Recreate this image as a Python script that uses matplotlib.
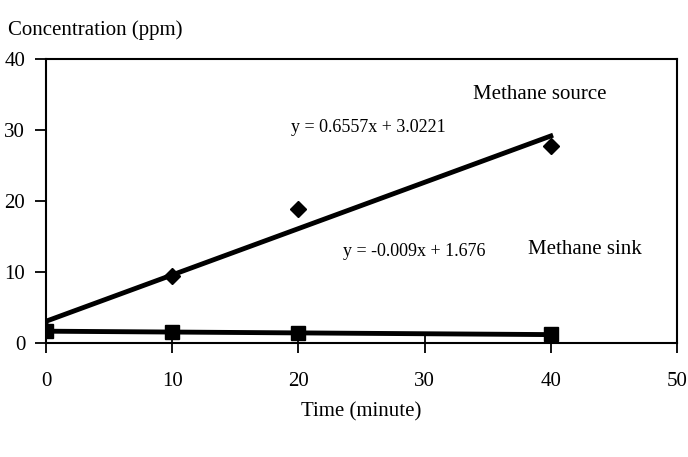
import numpy as np
import matplotlib
matplotlib.use('Agg')
from matplotlib import pyplot as plt

plt.rcParams['font.family'] = ['Liberation Serif', 'DejaVu Serif']

time = [0, 10, 20, 40]
source = [1.8, 9.4, 18.9, 27.8]
sink = [1.7, 1.5, 1.4, 1.2]

xticks = [0, 10, 20, 30, 40, 50]
yticks = [0, 10, 20, 30, 40]

fig = plt.figure(figsize=(6.88, 4.57), dpi=100)
ax = fig.add_axes([0.0669, 0.2495, 0.9171, 0.6215])

# linear trend lines over the measured range
t = np.array(time, dtype=float)
p_src = np.polyfit(t, source, 1)
p_snk = np.polyfit(t, sink, 1)
ax.plot(t[[0, -1]], np.polyval(p_src, t[[0, -1]]), color='black', lw=3.5)
ax.plot(t[[0, -1]], np.polyval(p_snk, t[[0, -1]]), color='black', lw=3.5)

ax.plot(time, source, linestyle='none', marker='D', ms=8, color='black')
ax.plot(time, sink, linestyle='none', marker='s', ms=10, color='black')

ax.set_xlim(0, 50)
ax.set_ylim(0, 40)
ax.set_xticks(xticks)
ax.set_yticks(yticks)
ax.tick_params(axis='x', direction='inout', length=14, width=1.3, pad=14, labelsize=15)
ax.tick_params(axis='y', direction='out', length=8, width=1.3, pad=7, labelsize=15)
for s in ax.spines.values():
    s.set_linewidth(1.5)

ax.set_xlabel('Time (minute)', fontsize=15, labelpad=8)
fig.text(0.012, 0.935, 'Concentration (ppm)', fontsize=15, ha='left', va='center')

ax.text(33.8, 35, 'Methane source', fontsize=15, ha='left', va='center')
ax.text(19.4, 30.3, 'y = 0.6557x + 3.0221', fontsize=13, ha='left', va='center')
ax.text(23.5, 12.9, 'y = -0.009x + 1.676', fontsize=13, ha='left', va='center')
ax.text(38.2, 13.2, 'Methane sink', fontsize=15, ha='left', va='center')

fig.savefig('out.png', dpi=100)
